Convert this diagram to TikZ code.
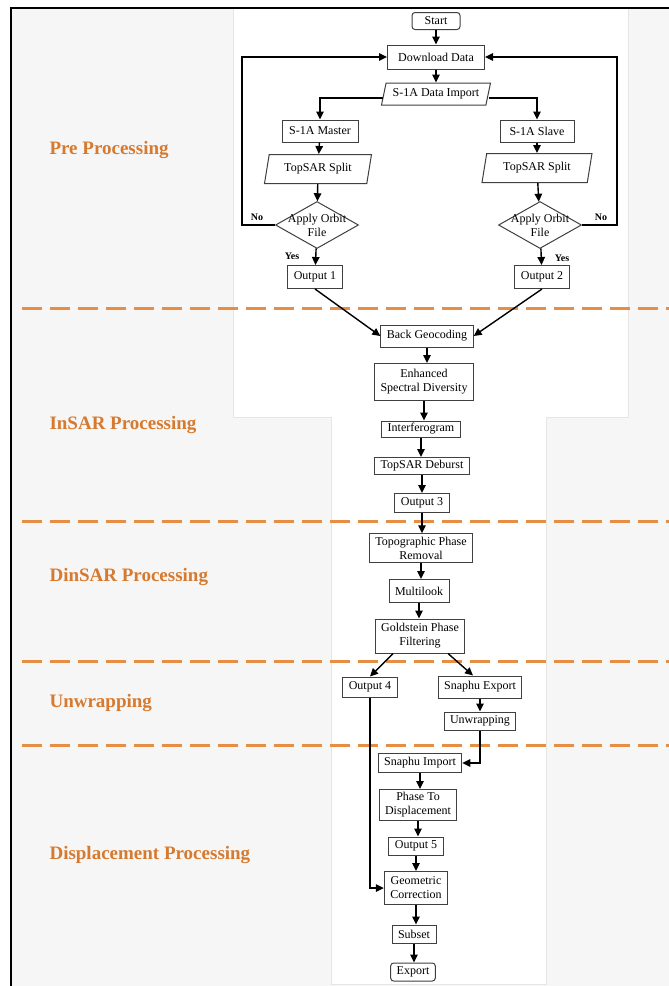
\documentclass[tikz,border=0pt]{standalone}
\usepackage{fontspec}
\setmainfont{Liberation Serif}
\usetikzlibrary{arrows.meta,shapes.geometric,positioning}
\definecolor{stageorange}{RGB}{214,122,48}
\definecolor{dashorange}{RGB}{230,142,68}
\definecolor{pagegray}{RGB}{246,246,246}

\begin{document}
\begin{tikzpicture}[x=1pt,y=-1pt,>={Triangle[length=8pt,width=7.5pt]},
  box/.style={rectangle,draw=black!75,line width=1pt,fill=white,font=\fontsize{12}{14}\selectfont,inner xsep=6pt,inner ysep=3pt,minimum height=19pt,align=center},
  term/.style={box,rounded corners=3pt},
  io/.style={trapezium,trapezium left angle=75,trapezium right angle=105,trapezium stretches body,draw=black!75,line width=1pt,fill=white,font=\fontsize{12}{14}\selectfont,inner xsep=2pt},
  decision/.style={diamond,draw=black!75,line width=1pt,fill=white,minimum width=83pt,minimum height=47pt,inner sep=0pt},
  flow/.style={->,line width=1.4pt},
  stage/.style={anchor=west,text=stageorange,font=\fontsize{19}{22}\selectfont\bfseries},
  divider/.style={dashorange,line width=3pt,dash pattern=on 20pt off 8pt},
  answer/.style={font=\fontsize{10}{12}\selectfont\bfseries}]
\useasboundingbox (0,0) rectangle (669,986);

% page and panels
\fill[pagegray] (11,8) rectangle (669,986);
\fill[white] (233,9) rectangle (628,417);
\fill[white] (331,417) rectangle (546,984);
\draw[black!10] (628,9) -- (628,417) -- (546,417) -- (546,984) -- (331,984) -- (331,417) -- (233,417) -- (233,9);
\draw[line width=1.5pt] (11,986) -- (11,8) -- (669,8);

% stage dividers
\foreach \y in {308,521,661,745}
  \draw[divider] (22,\y) -- (669,\y);

% stage names
\node[stage] (pre) at (46,150) {Pre Processing};
\node[stage] (insar) at (46,425) {InSAR Processing};
\node[stage] (dinsar) at (46,577) {DinSAR Processing};
\node[stage] (unwrap) at (46,703) {Unwrapping};
\node[stage] (displ) at (46,855) {Displacement Processing};

% pre processing
\node[term,minimum width=48pt,minimum height=17pt,inner ysep=1pt] (start) at (436,21) {Start};
\node[box,minimum width=97pt,minimum height=24pt] (dl) at (436,57) {Download Data};
\node[io,minimum width=109pt,minimum height=22pt] (imp) at (436,94) {S-1A Data Import};
\node[box,minimum width=76pt,minimum height=22pt] (master) at (320,131) {S-1A Master};
\node[box,minimum width=74pt,minimum height=22pt] (slave) at (537,131) {S-1A Slave};
\node[io,minimum width=107pt,minimum height=29pt] (splitL) at (318,169) {TopSAR Split};
\node[io,minimum width=110pt,minimum height=29pt] (splitR) at (537,168) {TopSAR Split};
\node[decision,label={[align=center,font=\fontsize{12}{14}\selectfont]center:Apply Orbit\\File}] (orbL) at (317,225) {};
\node[decision,label={[align=center,font=\fontsize{12}{14}\selectfont]center:Apply Orbit\\File}] (orbR) at (540,225) {};
\node[box,minimum height=23pt] (out1) at (315,277) {Output 1};
\node[box,minimum height=23pt] (out2) at (542,277) {Output 2};
\coordinate (loopL) at (242,57);
\coordinate (loopR) at (617,57);

% insar processing
\node[box,minimum height=22pt] (bg) at (427,336) {Back Geocoding};
\node[box,minimum height=37pt] (esd) at (424,382) {Enhanced\\Spectral Diversity};
\node[box,minimum height=16pt,inner ysep=1pt] (ifg) at (421,429) {Interferogram};
\node[box,minimum height=17pt,inner ysep=1pt] (deb) at (422,466) {TopSAR Deburst};
\node[box] (out3) at (422,503) {Output 3};

% dinsar processing
\node[box] (topo) at (421,548) {Topographic Phase\\Removal};
\node[box,minimum height=23pt] (ml) at (419,591) {Multilook};
\node[box,minimum height=34pt] (gold) at (420,636) {Goldstein Phase\\Filtering};

% unwrapping
\node[box,minimum height=20pt] (out4) at (370,687) {Output 4};
\node[box,minimum height=22pt] (snapE) at (480,687) {Snaphu Export};
\node[box,minimum height=18pt] (unw) at (480,721) {Unwrapping};

% displacement processing
\node[box] (snapI) at (420,763) {Snaphu Import};
\node[box] (ptd) at (418,805) {Phase To\\Displacement};
\node[box,minimum height=18pt] (out5) at (416,846) {Output 5};
\node[box,minimum height=33pt] (geo) at (416,888) {Geometric\\Correction};
\node[box,minimum height=18pt] (subset) at (414,934) {Subset};
\node[term,minimum height=18pt] (export) at (413,972) {Export};

% connectors
\draw[flow] (start) -- (dl);
\draw[flow] (dl) -- (imp);
\draw[flow] ([yshift=-4pt]imp.west) -| (master);
\draw[flow] ([yshift=-4pt]imp.east) -| (slave);
\draw[flow] (master) -- (splitL);
\draw[flow] (slave) -- (slave |- splitR.north);
\draw[flow] (splitL) -- (orbL);
\draw[flow] (splitR) -- (orbR);
\draw[flow] (orbL) -- (out1);
\draw[flow] (orbR) -- (out2);
\draw[flow] (orbL.west) -| (loopL) -- (dl.west);
\draw[flow] (orbR.east) -| (loopR) -- (dl.east);
\node[answer] (noL) at (257,217) {No};
\node[answer] (yesL) at (292,256) {Yes};
\node[answer] (yesR) at (562,258) {Yes};
\node[answer] (noR) at (601,217) {No};
\draw[flow] (out1.south) -- (bg.west);
\draw[flow] (out2.south) -- (bg.east);
\foreach \a/\b in {bg/esd,esd/ifg,ifg/deb,deb/out3,out3/topo,topo/ml,ml/gold,snapE/unw,snapI/ptd,ptd/out5,out5/geo,geo/subset,subset/export}
  \draw[flow] (\a) -- (\a |- \b.north);
\draw[flow] ([xshift=-27pt]gold.south) -- (out4.north);
\draw[flow] ([xshift=28pt]gold.south) -- ([xshift=-7pt]snapE.north);
\draw[flow] (unw.south) |- (snapI.east);
\draw[flow] (out4.south) |- (geo.west);
\end{tikzpicture}
\end{document}
